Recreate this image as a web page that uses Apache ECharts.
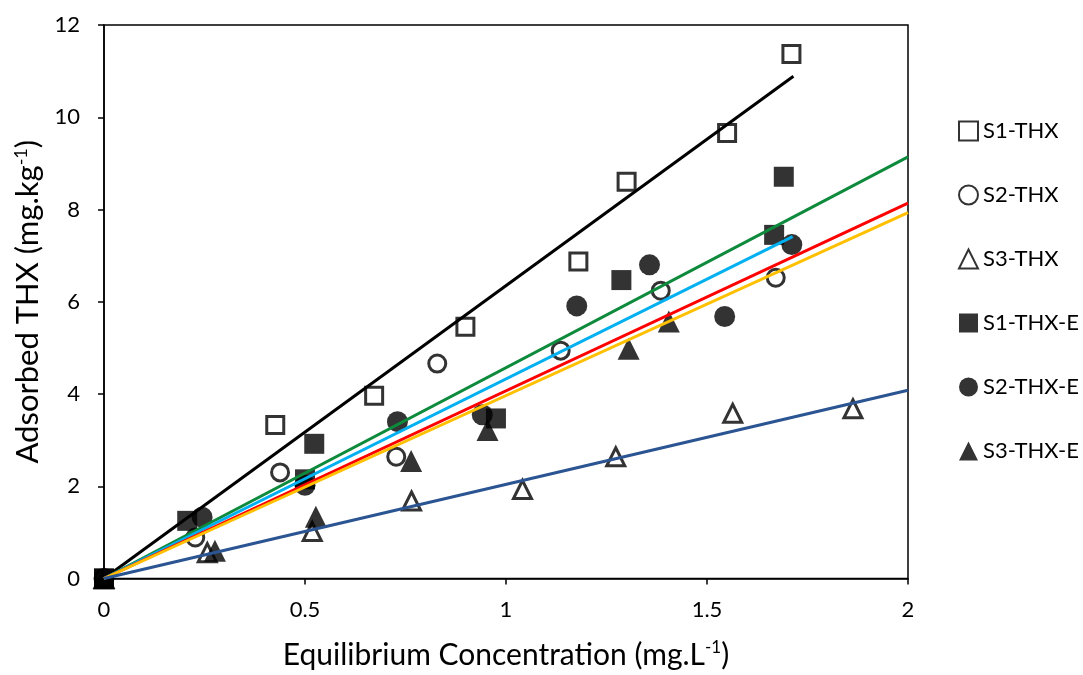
<!DOCTYPE html>
<html>
<head>
<meta charset="utf-8">
<script src="https://cdn.jsdelivr.net/npm/echarts@6/dist/echarts.min.js"></script>
<style>
  html, body { margin: 0; padding: 0; background: #fff; }
  #chart { width: 1083px; height: 675px; }
</style>
</head>
<body>
<div id="chart"></div>
<script>
// Equilibrium concentration (mg/L) and adsorbed amount (mg/kg) per soil sample
const seriesNames = ['S1-THX', 'S2-THX', 'S3-THX', 'S1-THX-E', 'S2-THX-E', 'S3-THX-E'];

const s1X = [0, 0.426, 0.672, 0.899, 1.18, 1.30, 1.55, 1.71];
const s1Y = [0, 3.33, 3.96, 5.46, 6.87, 8.60, 9.66, 11.37];

const s2X = [0, 0.227, 0.438, 0.727, 0.829, 1.136, 1.385, 1.671];
const s2Y = [0, 0.89, 2.30, 2.64, 4.66, 4.94, 6.24, 6.52];

const s3X = [0, 0.257, 0.518, 0.765, 1.041, 1.273, 1.564, 1.863];
const s3Y = [0, 0.56, 1.02, 1.68, 1.93, 2.64, 3.58, 3.68];

const s1eX = [0, 0.207, 0.50, 0.523, 0.975, 1.287, 1.667, 1.691];
const s1eY = [0, 1.25, 2.15, 2.92, 3.47, 6.47, 7.45, 8.71];

const s2eX = [0, 0.244, 0.50, 0.730, 0.941, 1.176, 1.357, 1.544, 1.711];
const s2eY = [0, 1.33, 2.02, 3.40, 3.55, 5.91, 6.80, 5.68, 7.24];

const s3eX = [0, 0.276, 0.527, 0.764, 0.954, 1.305, 1.405];
const s3eY = [0, 0.60, 1.34, 2.55, 3.22, 4.98, 5.57];

// Linear fits through the origin: end point of each fitted line
const fitNames = ['fit S1-THX', 'fit S1-THX-E', 'fit S2-THX-E', 'fit S2-THX', 'fit S3-THX-E', 'fit S3-THX'];
const fitEndX = [1.715, 2, 1.713, 2, 2, 2];
const fitEndY = [10.89, 9.14, 7.41, 8.14, 7.93, 4.08];
const fitColors = ['#000000', '#0E8A3C', '#00B0F0', '#FF0000', '#FFC000', '#2B5592'];

// Axis ticks
const xTicks = { min: 0, max: 2, interval: 0.5 };
const yTicks = { min: 0, max: 12, interval: 2 };

const zip = (xs, ys) => xs.map((x, i) => [x, ys[i]]);

const FONT = 'Lato, "Open Sans", sans-serif';

const openStyle = { color: '#ffffff', borderColor: '#000000', borderWidth: 3 };
const filledStyle = { color: '#000000', borderColor: '#000000', borderWidth: 0 };

const scatterDefs = [
  { data: zip(s1X, s1Y), symbol: 'rect', size: 17, style: openStyle },
  { data: zip(s2X, s2Y), symbol: 'circle', size: 17, style: openStyle },
  { data: zip(s3X, s3Y), symbol: 'triangle', size: 18, style: openStyle },
  { data: zip(s1eX, s1eY), symbol: 'rect', size: 20, style: filledStyle },
  { data: zip(s2eX, s2eY), symbol: 'circle', size: 21, style: filledStyle },
  { data: zip(s3eX, s3eY), symbol: 'triangle', size: 22, style: filledStyle }
];

const scatterSeries = scatterDefs.map((d, i) => ({
  name: seriesNames[i],
  type: 'scatter',
  data: d.data,
  symbol: d.symbol,
  symbolSize: d.size,
  itemStyle: d.style,
  z: 2 + (i < 3 ? 0 : 1)
}));

const fitSeries = fitNames.map((n, i) => ({
  name: n,
  type: 'line',
  data: [[0, 0], [fitEndX[i], fitEndY[i]]],
  showSymbol: false,
  symbol: 'none',
  lineStyle: { color: fitColors[i], width: 3 },
  z: 4,
  silent: true
}));

const richFor = (size) => ({
  a: { fontFamily: FONT, fontSize: size, color: '#000' },
  s: { fontFamily: FONT, fontSize: Math.round(size * 0.58), color: '#000', verticalAlign: 'top', padding: [0, 0, 14, 0] }
});

const chart = echarts.init(document.getElementById('chart'), null, { renderer: 'canvas' });

chart.setOption({
  animation: false,
  backgroundColor: '#ffffff',
  grid: {
    left: 104, right: 175, top: 25, bottom: 96,
    show: true, borderColor: '#000000', borderWidth: 1.5
  },
  legend: {
    data: seriesNames,
    orient: 'vertical',
    left: 953,
    top: 115,
    itemGap: 42,
    itemWidth: 19,
    itemHeight: 19,
    textStyle: { fontFamily: FONT, fontSize: 22, color: '#000' }
  },
  xAxis: {
    type: 'value',
    min: xTicks.min, max: xTicks.max, interval: xTicks.interval,
    name: '{a|Equilibrium Concentration (mg.L}{s|-1}{a|)}',
    nameLocation: 'middle',
    nameGap: 61,
    nameTextStyle: { rich: richFor(30) },
    axisLine: { show: true, lineStyle: { color: '#000', width: 1.5 } },
    axisTick: { show: true, inside: false, length: 6, lineStyle: { color: '#000', width: 1.5 } },
    axisLabel: { fontFamily: FONT, fontSize: 22, color: '#000', margin: 20 },
    splitLine: { show: false }
  },
  yAxis: {
    type: 'value',
    min: yTicks.min, max: yTicks.max, interval: yTicks.interval,
    name: '{a|Adsorbed THX (mg.kg}{s|-1}{a|)}',
    nameLocation: 'middle',
    nameGap: 56,
    nameRotate: 90,
    nameTextStyle: { rich: richFor(31) },
    axisLine: { show: true, lineStyle: { color: '#000', width: 1.5 } },
    axisTick: { show: true, inside: false, length: 6, lineStyle: { color: '#000', width: 1.5 } },
    axisLabel: { fontFamily: FONT, fontSize: 22, color: '#000', margin: 24 },
    splitLine: { show: false }
  },
  series: [...scatterSeries, ...fitSeries]
});
</script>
</body>
</html>
